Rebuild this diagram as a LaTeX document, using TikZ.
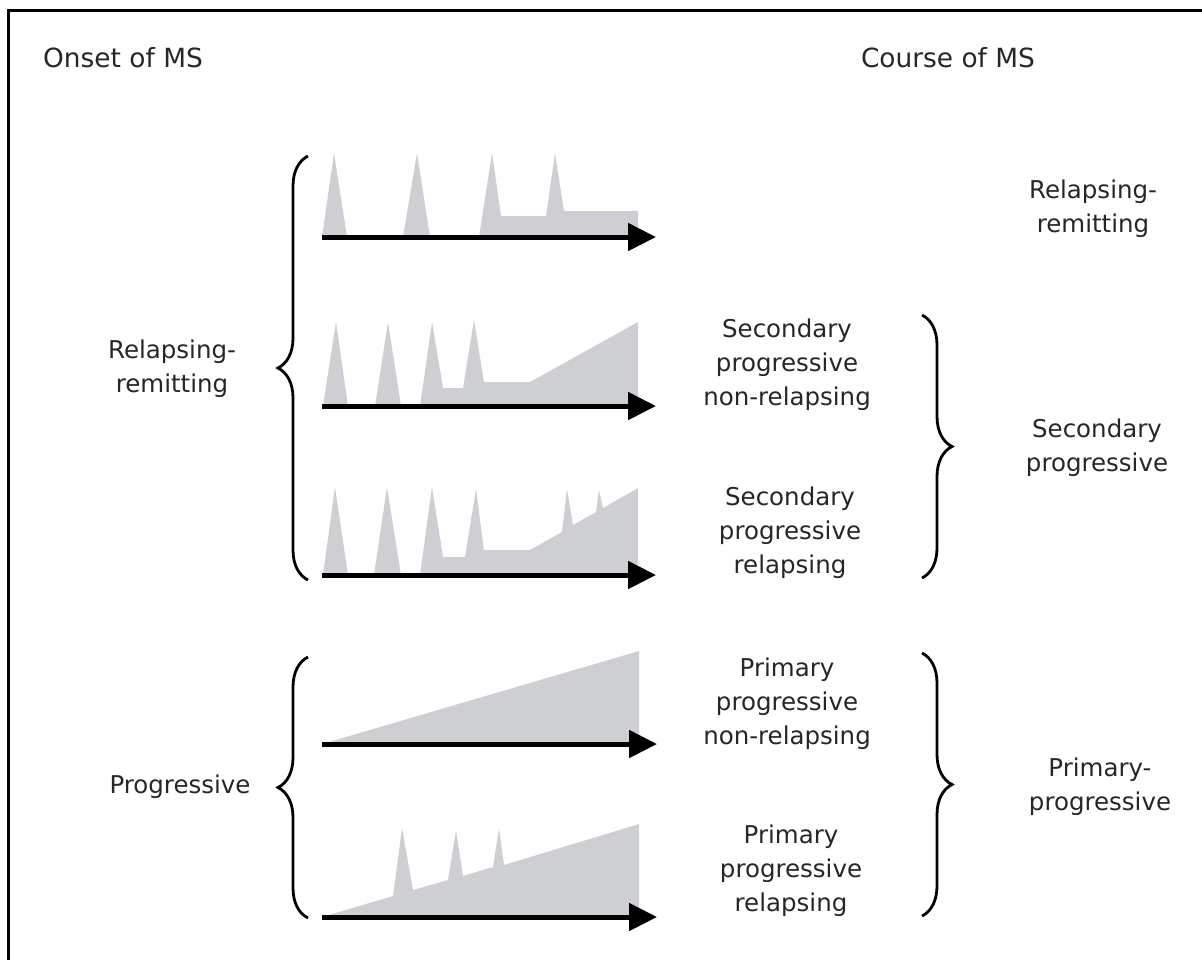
\documentclass[tikz,border=0pt]{standalone}
\usepackage{fontspec}
\setmainfont{DejaVu Sans}
\usetikzlibrary{arrows.meta,decorations.pathreplacing}

\definecolor{msgray}{RGB}{205,207,210}

\tikzset{
  txt/.style={font=\fontsize{12.25}{17}\selectfont, align=center, text=black!85},
  heading/.style={font=\fontsize{13.2}{17}\selectfont, text=black!85},
  timeline/.style={line width=2.5pt, -{Triangle[length=14pt,width=13.5pt]}},
  greyarea/.style={fill=msgray},
  bracket/.style={line width=1.4pt, decorate, decoration={brace, amplitude=15pt}},
}

\begin{document}
\begin{tikzpicture}[x=0.5pt,y=-0.5pt]
  \useasboundingbox (0,0) rectangle (1202,960);
  \draw[line width=1.5pt] (8,960) -- (8,10) -- (1202,10);

  % headings
  \node[heading, anchor=base] (onset) at (123,67) {Onset of MS};
  \node[heading, anchor=base] (course) at (948,67) {Course of MS};

  % grey courses
  \fill[greyarea] (322,237) -- (334,153) -- (347,237) -- (403,237) -- (417,153) -- (430,237)
    -- (479,237) -- (492,153) -- (501,216) -- (546,216) -- (555,153) -- (564,211)
    -- (638,211) -- (638,237) -- cycle;
  \fill[greyarea] (323,406) -- (336,322) -- (348,406) -- (375,406) -- (388,322) -- (401,406)
    -- (420,406) -- (432,322) -- (443,388) -- (463,388) -- (474,320) -- (484,382)
    -- (530,382) -- (638,322) -- (638,406) -- cycle;
  \fill[greyarea] (323,575) -- (335,487) -- (348,575) -- (374,575) -- (387,487) -- (401,575)
    -- (420,575) -- (432,487) -- (443,557) -- (465,557) -- (476,489) -- (484,550)
    -- (530,550) -- (562,532) -- (567,489) -- (573,525) -- (596,512) -- (599,490)
    -- (603,508) -- (638,488) -- (638,575) -- cycle;
  \fill[greyarea] (322,744) -- (639,651) -- (639,744) -- cycle;
  \fill[greyarea] (322,917) -- (393,896) -- (402,828) -- (413,890) -- (448,880) -- (456,830)
    -- (463,876) -- (493,867) -- (499,828) -- (504,865) -- (639,824) -- (639,917) -- cycle;

  % time axes
  \coordinate (s1) at (322,237);  \coordinate (e1) at (656,237);
  \coordinate (s2) at (322,406);  \coordinate (e2) at (656,406);
  \coordinate (s3) at (322,575);  \coordinate (e3) at (656,575);
  \coordinate (s4) at (322,744);  \coordinate (e4) at (657,744);
  \coordinate (s5) at (322,917);  \coordinate (e5) at (657,917);
  \draw[timeline] (s1) -- (e1);
  \draw[timeline] (s2) -- (e2);
  \draw[timeline] (s3) -- (e3);
  \draw[timeline] (s4) -- (e4);
  \draw[timeline] (s5) -- (e5);

  % onset braces
  \coordinate (rrtop) at (308,156);  \coordinate (rrbot) at (308,580);
  \coordinate (pptop) at (308,657);  \coordinate (ppbot) at (308,918);
  \draw[bracket] (rrbot) -- (rrtop);
  \draw[bracket] (ppbot) -- (pptop);
  \node[txt] (onsetrr) at (172,369) {Relapsing-\\remitting};
  \node[txt, anchor=mid] (onsetpp) at (180,788) {Progressive};

  % course labels
  \node[txt] (rr) at (1093,209) {Relapsing-\\remitting};
  \node[txt] (spn) at (787,365) {Secondary\\progressive\\non-relapsing};
  \node[txt] (spr) at (790,533) {Secondary\\progressive\\relapsing};
  \node[txt] (ppn) at (787,704) {Primary\\progressive\\non-relapsing};
  \node[txt] (ppr) at (791,871) {Primary\\progressive\\relapsing};

  % course braces
  \coordinate (sptop) at (922,315);  \coordinate (spbot) at (922,578);
  \coordinate (prtop) at (922,653);  \coordinate (prbot) at (922,916);
  \draw[bracket] (sptop) -- (spbot);
  \draw[bracket] (prtop) -- (prbot);
  \node[txt] (sp) at (1097,448) {Secondary\\progressive};
  \node[txt] (pp) at (1100,787) {Primary-\\progressive};
\end{tikzpicture}
\end{document}
